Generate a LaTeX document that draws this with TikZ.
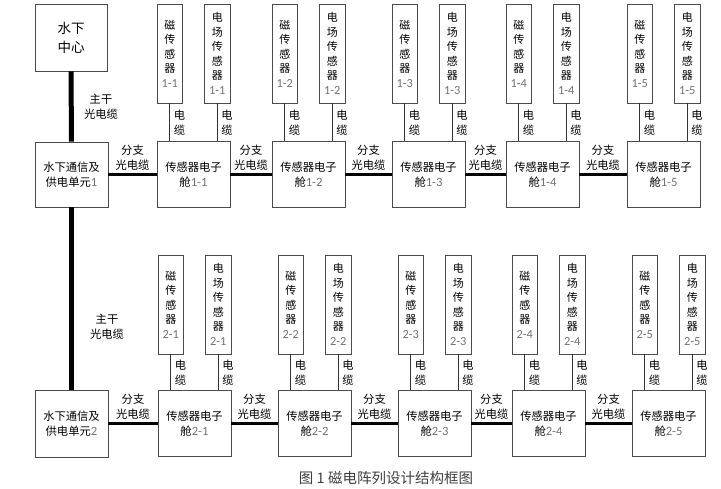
\documentclass[tikz,border=0pt]{standalone}
\usepackage{fontspec}
\setmainfont{Noto Sans CJK SC}
\newfontfamily\numfont[Scale=1.12]{Carlito}
\newcommand\nm[1]{{\color{black!55}\numfont #1}}
\begin{document}
\begin{tikzpicture}[x=1pt,y=-1pt,
  box/.style={draw=black!70,line width=0.9pt,fill=white,inner sep=0pt,align=center,font=\fontsize{11.3}{15.5}\selectfont},
  cabin/.style={box,minimum width=73pt,minimum height=66pt},
  sensor/.style={box,minimum width=25.5pt,minimum height=99pt,font=\fontsize{11}{14.5}\selectfont},
  trunk/.style={line width=5pt},
  branch/.style={line width=3pt},
  cable/.style={line width=1.3pt,draw=black!80},
  lbl/.style={align=center,inner sep=0pt,font=\fontsize{11.3}{15}\selectfont}]
\useasboundingbox (0,0) rectangle (721,489);
% top
\node[box,minimum width=72pt,minimum height=67pt,font=\fontsize{13.5}{19}\selectfont] (ctr) at (71,37.5) {水下\\中心};
\node[box,minimum width=73pt,minimum height=65pt] (u1) at (71.5,174.5) {水下通信及\\供电单元\nm{1}};
\node[box,minimum width=73pt,minimum height=67pt] (u2) at (71.5,423.5) {水下通信及\\供电单元\nm{2}};
\draw[trunk] (ctr.south) -- (u1.north);
\draw[trunk] (u1.south) -- (u2.north);
\node[lbl] (t1) at (101,107) {主干\\光电缆};
\node[lbl] (t2) at (107,327) {主干\\光电缆};
\foreach \r/\cy/\sy/\xs in {1/174.5/53.5/{1/193.5,2/308.5,3/428.5,4/542.5,5/663.5},2/423.5/304.5/{1/194.5,2/314.5,3/434.5,4/548.5,5/668.5}}{
  \foreach \i/\x in \xs {
    \node[cabin] (c\r\i) at (\x,\cy) {传感器电子\\舱\nm{\r-\i}};
    \node[sensor] (m\r\i) at ({\x-23.75},\sy) {磁\\传\\感\\器\\\nm{\r-\i}};
    \node[sensor] (e\r\i) at ({\x+23.75},\sy) {电\\场\\传\\感\\器\\\nm{\r-\i}};
    \draw[cable] (m\r\i.south) -- (m\r\i.south |- c\r\i.north) node[lbl,midway,right=3.5pt] {电\\缆};
    \draw[cable] (e\r\i.south) -- (e\r\i.south |- c\r\i.north) node[lbl,midway,right=3.5pt] {电\\缆};
  }
  \draw[branch] (u\r) -- (c\r1) node[lbl,midway,above=3pt] {分支\\光电缆};
  \foreach \i/\j in {1/2,2/3,3/4,4/5}{
    \draw[branch] (c\r\i) -- (c\r\j) node[lbl,midway,above=3pt] {分支\\光电缆};
  }
}
\node[inner sep=0pt,font=\fontsize{14.5}{17}\selectfont,text=black!75] (cap) at (386,478) {图 1 磁电阵列设计结构框图};
\end{tikzpicture}
\end{document}
